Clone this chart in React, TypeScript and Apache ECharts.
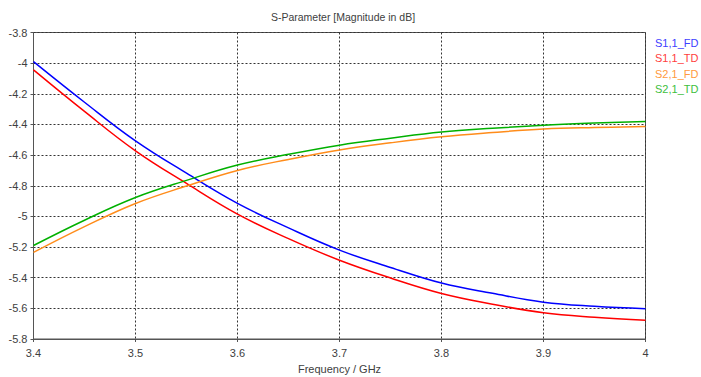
import React, { useEffect, useRef } from "react";
import * as echarts from "echarts";

const freq = [3.4, 3.45, 3.5, 3.55, 3.6, 3.65, 3.7, 3.75, 3.8, 3.85, 3.9, 3.95, 4.0];
const s11FD = [-3.99, -4.255, -4.507, -4.718, -4.915, -5.075, -5.22, -5.333, -5.435, -5.502, -5.56, -5.587, -5.603];
const s11TD = [-4.044, -4.315, -4.572, -4.785, -4.985, -5.145, -5.286, -5.402, -5.503, -5.573, -5.629, -5.658, -5.677];
const s21FD = [-5.235, -5.067, -4.916, -4.802, -4.7, -4.628, -4.566, -4.52, -4.481, -4.453, -4.43, -4.42, -4.414];
const s21TD = [-5.19, -5.025, -4.877, -4.765, -4.665, -4.595, -4.535, -4.49, -4.45, -4.425, -4.405, -4.391, -4.38];

const seriesNames = ["S1,1_FD", "S1,1_TD", "S2,1_FD", "S2,1_TD"];
const seriesData = [s11FD, s11TD, s21FD, s21TD];
const lineColors = ["#0000ff", "#ff0000", "#ff8c1a", "#00b000"];
const legendColors = ["#4040ff", "#ff4040", "#ff9a40", "#40c040"];

const FONT = "Liberation Sans";
const TXT = "#404040";

export default function App() {
  const ref = useRef<HTMLDivElement>(null);
  useEffect(() => {
    if (!ref.current) return;
    const chart = echarts.init(ref.current, undefined, { renderer: "svg" });
    chart.setOption({
      animation: false,
      title: {
        text: "S-Parameter [Magnitude in dB]",
        left: 338,
        textAlign: "center",
        top: 6,
        textStyle: { fontFamily: FONT, fontSize: 10.5, fontWeight: "normal", color: TXT },
      },
      graphic: seriesNames.map((n, i) => ({
        type: "text",
        left: 655,
        top: 37 + i * 15.5,
        style: { text: n, fill: legendColors[i], font: `11px "${FONT}"` },
      })),
      grid: {
        left: 33.5,
        right: 55.5,
        top: 32.5,
        bottom: 38,
        show: true,
        borderColor: "#555",
        borderWidth: 1,
        outerBoundsMode: "none",
        containLabel: false,
      },
      xAxis: {
        type: "value",
        min: 3.4,
        max: 4.0,
        interval: 0.1,
        name: "Frequency / GHz",
        nameLocation: "middle",
        nameGap: 24,
        nameTextStyle: { fontFamily: FONT, fontSize: 11, color: TXT },
        axisLine: { show: true, lineStyle: { color: "#555" } },
        axisTick: { show: true, length: 3, inside: false, lineStyle: { color: "#555" } },
        axisLabel: {
          fontFamily: FONT,
          fontSize: 11,
          color: TXT,
          margin: 8,
          formatter: (v: number) => String(Math.round(v * 10) / 10),
        },
        splitLine: { show: true, lineStyle: { color: "#333", type: [2, 2] } },
      },
      yAxis: {
        type: "value",
        min: -5.8,
        max: -3.8,
        interval: 0.2,
        axisLine: { show: true, lineStyle: { color: "#555" } },
        axisTick: { show: true, length: 3, lineStyle: { color: "#555" } },
        axisLabel: {
          fontFamily: FONT,
          fontSize: 11,
          color: TXT,
          margin: 6,
          formatter: (v: number) => String(Math.round(v * 10) / 10),
        },
        splitLine: { show: true, lineStyle: { color: "#333", type: [2, 2] } },
      },
      series: seriesNames.map((n, i) => ({
        name: n,
        type: "line",
        smooth: 0.4,
        showSymbol: false,
        symbol: "none",
        lineStyle: { color: lineColors[i], width: 1.5 },
        itemStyle: { color: lineColors[i] },
        data: freq.map((f, k) => [f, seriesData[i][k]]),
      })),
    });
    return () => chart.dispose();
  }, []);
  return <div ref={ref} style={{ width: 701, height: 377, position: "absolute", left: 0, top: 0 }} />;
}
